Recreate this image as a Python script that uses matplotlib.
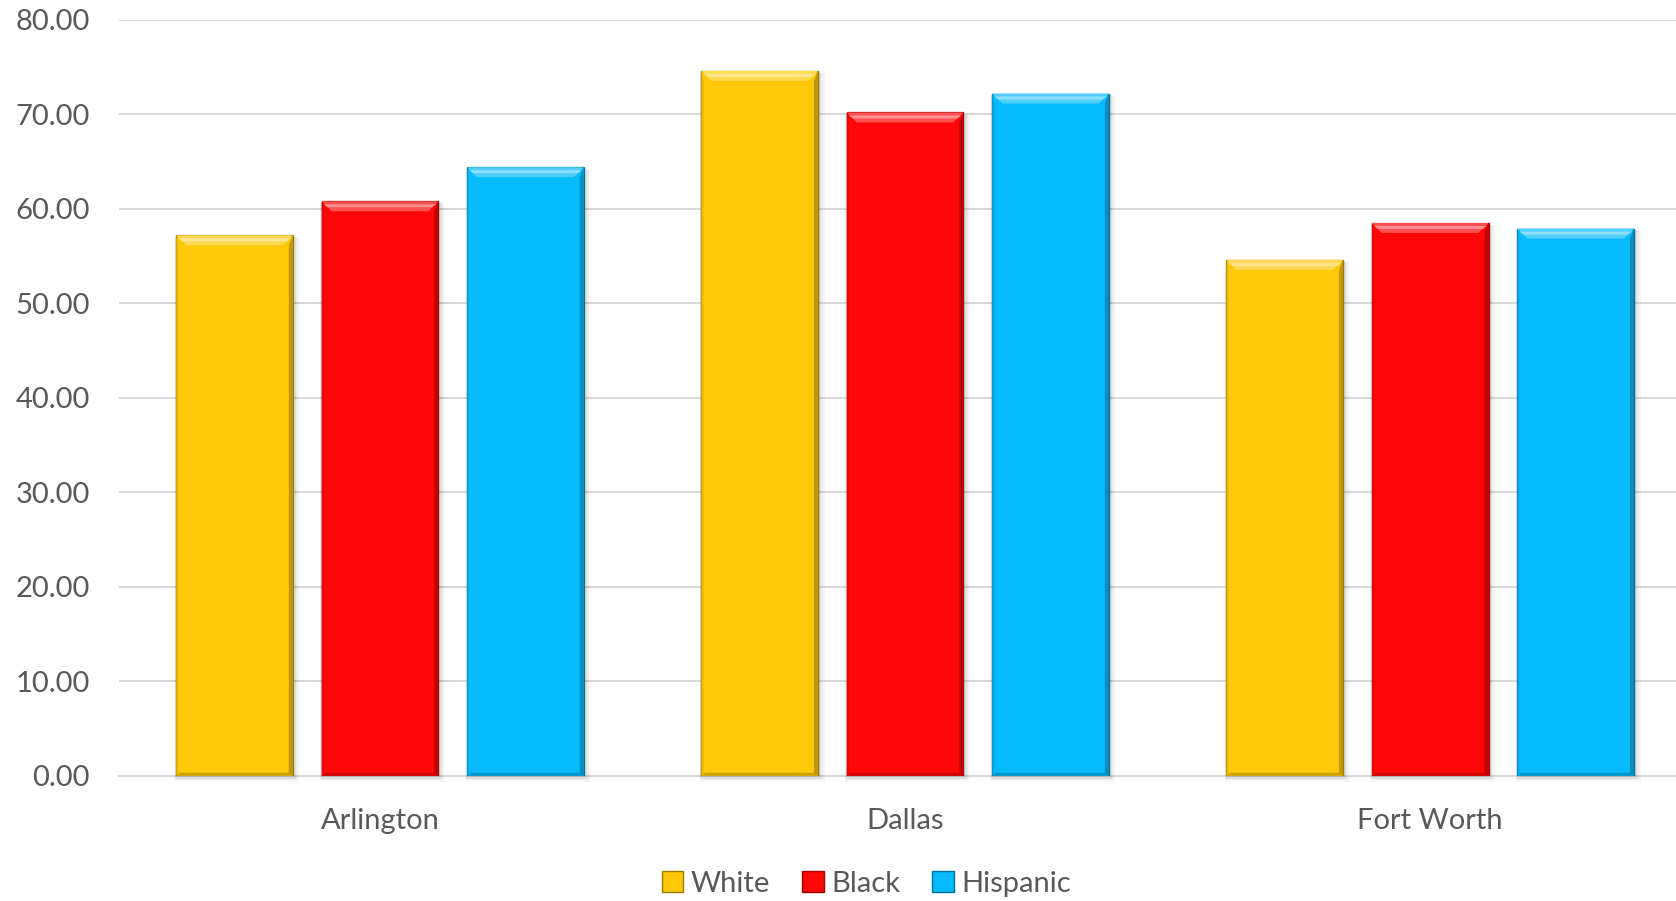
import matplotlib.pyplot as plt
import matplotlib.colors as mcolors
import numpy as np
from matplotlib.patches import Polygon, Rectangle, Patch

# Data
cities = ['Arlington', 'Dallas', 'Fort Worth']
groups = ['White', 'Black', 'Hispanic']
white = [57.2, 74.6, 54.6]
black = [60.8, 70.2, 58.5]
hispanic = [64.4, 72.2, 57.9]
yticks = [0, 10, 20, 30, 40, 50, 60, 70, 80]

colors = ['#FFC90A', '#FF0707', '#05BBFB']

plt.rcParams['font.family'] = ['Lato', 'DejaVu Sans']

fig = plt.figure(figsize=(16.76, 9.01), dpi=100)
ax = fig.add_axes([0.071, 0.139, 0.929, 0.839])

x = np.arange(len(cities))
width = 0.222
offsets = [-0.277, 0.0, 0.277]
series = [white, black, hispanic]

ax.set_xlim(-0.497, 2.468)
ax.set_ylim(0, 80)

# pixel sizes of the bevel converted to data units
fig.canvas.draw()
px_x = (ax.get_xlim()[1] - ax.get_xlim()[0]) / ax.get_window_extent().width
px_y = (ax.get_ylim()[1] - ax.get_ylim()[0]) / ax.get_window_extent().height


def shade(c, f):
    r = np.array(mcolors.to_rgb(c))
    if f > 0:
        r = r + (1 - r) * f
    else:
        r = r * (1 + f)
    return np.clip(r, 0, 1)


def bevel_bar(ax, x0, w, h, c):
    x1 = x0 + w
    # soft shadow
    for i, a in enumerate([0.06, 0.05, 0.04, 0.03]):
        s = (i + 1) * 1.5
        ax.add_patch(Rectangle((x0 - s * px_x * 0.3, -s * px_y), w + s * px_x * 1.4, h + s * px_y * 0.6,
                               facecolor='black', alpha=a, edgecolor='none', zorder=2, clip_on=False))
    ax.add_patch(Rectangle((x0, 0), w, h, facecolor=c, edgecolor=shade(c, -0.4),
                           linewidth=0.9, zorder=3))
    dx, dy = 10 * px_x, 10 * px_y
    sx = 4 * px_x
    # top bevel
    ax.add_patch(Polygon([(x0, h), (x1, h), (x1 - dx, h - dy), (x0 + dx, h - dy)],
                         closed=True, facecolor=shade(c, 0.3), edgecolor='none', zorder=4))
    ax.add_patch(Polygon([(x0 + 2 * px_x, h - 3 * px_y), (x1 - 2 * px_x, h - 3 * px_y),
                          (x1 - 6 * px_x, h - 6 * px_y), (x0 + 6 * px_x, h - 6 * px_y)],
                         closed=True, facecolor=shade(c, 0.55), edgecolor='none', zorder=4))
    # right edge darker
    ax.add_patch(Polygon([(x1, 0), (x1, h), (x1 - sx, h - dy), (x1 - sx, 2 * px_y)],
                         closed=True, facecolor=shade(c, -0.25), edgecolor='none', zorder=4))
    # left edge slightly darker
    ax.add_patch(Polygon([(x0, 0), (x0, h), (x0 + 2 * px_x, h - dy), (x0 + 2 * px_x, 2 * px_y)],
                         closed=True, facecolor=shade(c, -0.1), edgecolor='none', zorder=4))
    # bottom
    ax.add_patch(Polygon([(x0, 0), (x1, 0), (x1 - sx, 3 * px_y), (x0 + sx, 3 * px_y)],
                         closed=True, facecolor=shade(c, -0.2), edgecolor='none', zorder=4))


for vals, off, c in zip(series, offsets, colors):
    for xi, v in zip(x, vals):
        bevel_bar(ax, xi + off - width / 2, width, v, c)

ax.set_yticks(yticks)
ax.set_yticklabels(['%.2f' % t for t in yticks])
ax.set_xticks(x)
ax.set_xticklabels(cities)
ax.yaxis.grid(True, color='#D9D9D9', linewidth=1.5, zorder=0)
ax.set_axisbelow(True)
for sp in ['top', 'right', 'left']:
    ax.spines[sp].set_visible(False)
ax.spines['bottom'].set_color('#D9D9D9')
ax.spines['bottom'].set_linewidth(1.5)
ax.spines['bottom'].set_zorder(1)
ax.tick_params(axis='both', length=0, labelsize=21, colors='#595959')
ax.tick_params(axis='y', pad=21)
ax.tick_params(axis='x', pad=23)

handles = [Patch(facecolor=c, edgecolor=shade(c, -0.4), label=g) for g, c in zip(groups, colors)]
fig.legend(handles=handles, loc='center', bbox_to_anchor=(0.517, 0.019), ncol=3, frameon=False,
           fontsize=21, labelcolor='#595959', handlelength=0.75, handleheight=0.75,
           handletextpad=0.25, columnspacing=1.1)

fig.savefig('out.png', dpi=100)
